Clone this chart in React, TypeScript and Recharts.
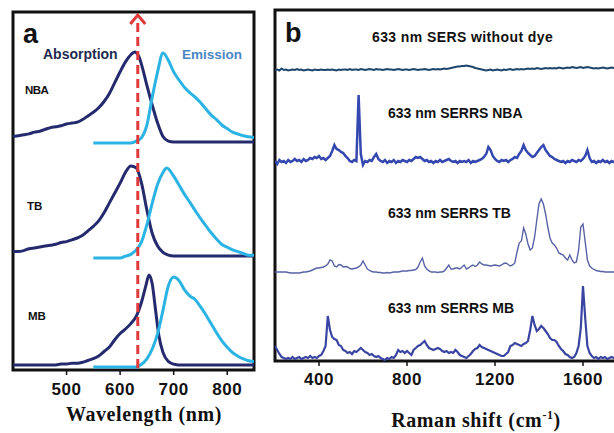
import React from 'react';
import { LineChart, Line, XAxis, YAxis, ReferenceLine, ReferenceArea } from 'recharts';

// ---------- Panel a: absorption / emission spectra (normalized intensity) ----------
const wavelengthTicks = [500, 600, 700, 800];
const laserWavelength = 633;

const nbaAbsorption: [number, number][] = [
  [400, 0.06], [410, 0.07], [420, 0.08], [430, 0.09], [440, 0.11], [450, 0.12], [460, 0.14], [470, 0.16],
  [480, 0.17], [490, 0.18], [500, 0.2], [510, 0.21], [520, 0.22], [530, 0.25], [540, 0.29], [550, 0.33],
  [560, 0.38], [570, 0.45], [580, 0.54], [590, 0.66], [600, 0.78], [610, 0.89], [620, 0.97], [627, 1],
  [635, 0.95], [640, 0.86], [650, 0.63], [660, 0.41], [670, 0.21], [680, 0.06], [690, 0.01], [700, 0], [850, 0],
];
const nbaEmission: [number, number][] = [
  [550, 0], [620, 0], [630, 0.02], [640, 0.06], [650, 0.2], [660, 0.51], [670, 0.79], [680, 1], [690, 0.92],
  [700, 0.79], [710, 0.7], [720, 0.62], [730, 0.56], [740, 0.51], [750, 0.45], [760, 0.38], [770, 0.31],
  [780, 0.26], [790, 0.2], [800, 0.16], [810, 0.12], [820, 0.1], [830, 0.08], [840, 0.07], [850, 0.06],
];
const tbAbsorption: [number, number][] = [
  [400, 0.05], [410, 0.05], [420, 0.06], [430, 0.08], [440, 0.09], [450, 0.1], [460, 0.11], [470, 0.12],
  [480, 0.13], [490, 0.15], [500, 0.16], [510, 0.18], [520, 0.2], [530, 0.23], [540, 0.28], [550, 0.33],
  [560, 0.39], [570, 0.48], [580, 0.59], [590, 0.7], [600, 0.81], [610, 0.93], [620, 1], [630, 0.98],
  [640, 0.81], [650, 0.51], [660, 0.25], [670, 0.11], [680, 0.04], [690, 0.01], [700, 0], [850, 0],
];
const tbEmission: [number, number][] = [
  [550, 0], [600, 0], [610, 0.02], [620, 0.04], [630, 0.09], [640, 0.18], [650, 0.37], [660, 0.61],
  [670, 0.82], [680, 0.95], [687, 1], [700, 0.91], [710, 0.81], [720, 0.71], [730, 0.62], [740, 0.53],
  [750, 0.44], [760, 0.36], [770, 0.28], [780, 0.21], [790, 0.15], [800, 0.12], [810, 0.09], [820, 0.07],
  [830, 0.05], [840, 0.03], [850, 0.03],
];
const mbAbsorption: [number, number][] = [
  [400, 0], [480, 0], [490, 0.01], [500, 0.01], [510, 0.02], [520, 0.02], [530, 0.03], [540, 0.05],
  [550, 0.07], [560, 0.1], [570, 0.15], [580, 0.2], [590, 0.28], [600, 0.35], [610, 0.4], [620, 0.46],
  [630, 0.54], [640, 0.7], [648, 0.88], [654, 1], [660, 0.9], [666, 0.62], [672, 0.34], [680, 0.14],
  [690, 0.04], [700, 0.01], [710, 0], [850, 0],
];
const mbEmission: [number, number][] = [
  [550, 0], [630, 0], [640, 0.03], [650, 0.09], [660, 0.2], [670, 0.37], [680, 0.63], [690, 0.9], [700, 1],
  [710, 0.96], [720, 0.86], [730, 0.79], [740, 0.75], [750, 0.67], [760, 0.58], [770, 0.48], [780, 0.38],
  [790, 0.29], [800, 0.22], [810, 0.16], [820, 0.12], [830, 0.09], [840, 0.07], [850, 0.06],
];

// stacking (vertical offsets in plot units) and peak amplitude
const SPEC_AMP = 90;
const absOffsets = { nba: 228, tb: 114, mb: 5 };
const emOffsets = { nba: 227, tb: 112, mb: 3 };

// ---------- Panel b: Raman spectra (relative intensity above each trace baseline) ----------
const ramanTicks = [400, 800, 1200, 1600];
const ramanShift = [
  200, 210, 220, 230, 240, 250, 260, 270, 280, 290,
  300, 310, 320, 330, 340, 350, 360, 370, 380, 390,
  400, 410, 420, 430, 440, 450, 460, 470, 480, 490,
  500, 510, 520, 530, 540, 550, 560, 570, 580, 590,
  600, 610, 620, 630, 640, 650, 660, 670, 680, 690,
  700, 710, 720, 730, 740, 750, 760, 770, 780, 790,
  800, 810, 820, 830, 840, 850, 860, 870, 880, 890,
  900, 910, 920, 930, 940, 950, 960, 970, 980, 990,
  1000, 1010, 1020, 1030, 1040, 1050, 1060, 1070, 1080, 1090,
  1100, 1110, 1120, 1130, 1140, 1150, 1160, 1170, 1180, 1190,
  1200, 1210, 1220, 1230, 1240, 1250, 1260, 1270, 1280, 1290,
  1300, 1310, 1320, 1330, 1340, 1350, 1360, 1370, 1380, 1390,
  1400, 1410, 1420, 1430, 1440, 1450, 1460, 1470, 1480, 1490,
  1500, 1510, 1520, 1530, 1540, 1550, 1560, 1570, 1580, 1590,
  1600, 1610, 1620, 1630, 1640, 1650, 1660, 1670, 1680, 1690,
  1700, 1710, 1720, 1730, 1740, 1750,
];
const sersNoDye = [
  0, 0.5, -0.5, 1.5, 0, 0.5, -0.5, 0, 0.5, 0,
  1, 0, 0.5, -0.5, 0, 0.5, 0, -0.5, 0.5, 0,
  0, 0.5, 0, 0, 0.5, 0, 0.5, 0, -0.5, 0.5,
  0, 0.5, 0.5, 0, 1, 0, 0.5, 0.5, 0, 1,
  0.5, 0, 0.5, 1, 0.5, 0, 1, 0.5, 0.5, 0,
  0.5, 1, 0.5, 0.5, 0, 0.5, 1, 0.5, 0, 0.5,
  0.5, 0, 0.5, 1, 0.5, 0, 0.5, 0.5, 1, 0.5,
  0, 0.5, 1, 0.5, 1, 0.5, 1, 1.5, 1, 1.5,
  2, 2.5, 3, 3.5, 3.5, 4, 4, 4.5, 4, 3.5,
  3, 2, 1.5, 1, 0.5, 0, -0.5, 0, 0.5, -0.5,
  0, 0.5, 0, -0.5, 0.5, 0, 0.5, 1, 0, 0.5,
  1, 0.5, 1, 0.5, 1, 1.5, 1, 1.5, 1, 2,
  1.5, 1, 1.5, 2, 1.5, 2, 1.5, 2, 1.5, 2.5,
  2, 1.5, 2, 2.5, 2, 3, 2.5, 2, 2.5, 3,
  2, 2.5, 3, 2.5, 2, 1.5, 2, 1.5, 2, 2.5,
  2, 1.5, 2, 2.5, 2, 2,
];
const serrsNBA = [
  1, -2, 2, 0, 1, -1, 2, 0, 1, 3,
  1, 2, 0, 3, 1, 2, 4, 3, 5, 4,
  6, 3, 4, 2, 4, 6, 11, 17, 13, 12,
  10, 9, 6, 4, 1, 0, 2, 1, 67, 8,
  -3, 1, 0, 2, 1, 5, 8, 3, 1, 0,
  2, -1, 1, 0, 2, -1, 1, 0, 2, 1,
  0, 2, 1, 3, 5, 4, 5, 3, 1, 2,
  0, 1, -1, 1, 0, 2, 0, 1, 2, 3,
  1, 0, 1, -1, 1, 0, 1, 0, 2, -1,
  1, 0, 1, 2, 3, 5, 8, 15, 12, 6,
  3, 1, 0, 2, 1, 2, 0, 2, 3, 5,
  4, 8, 11, 17, 12, 9, 7, 5, 6, 9,
  12, 15, 17, 12, 9, 6, 5, 3, 2, 1,
  0, 1, -1, 1, 0, 2, 1, 0, 2, 1,
  3, 6, 12, 4, 0, 1, -1, 1, 0, 2,
  0, 1, -1, 1, 0, 1,
];
const serrsTB = [
  0, 0, 0, 0, 0, 0, -0.5, -1, -1, -1,
  -1, -1, -0.5, 0, 0, 0.5, 1, 2, 3, 4,
  4, 4.5, 5, 6, 8, 12, 11, 6, 5, 7.5,
  7, 5, 5.5, 5, 3.5, 3, 3.5, 4, 5, 7,
  11, 7, 3, 1.5, 0.5, 0, 0, -0.5, -0.5, -1,
  -1, -0.5, -1, -0.5, 0, 0, 0, 0.5, 1, 1,
  1, 1.5, 1.5, 2, 2.5, 5, 10, 14, 6, 3,
  1, 0, 0, 0, -0.5, 0, 0, 1, 4, 7,
  3, 3, 4, 4, 3, 5, 7, 3, 4, 6,
  7, 5.5, 7, 10, 8, 7, 7, 6.5, 6, 6.5,
  7, 6.5, 6, 7, 8.5, 9, 7.5, 6, 7, 9,
  20, 29, 31, 44, 38, 28, 22, 24, 35, 52,
  68, 73, 68, 58, 45, 34, 29, 27, 24, 19,
  18, 17, 14, 12, 17, 12, 9, 10, 22, 45,
  48, 30, 12, 6, 4, 2.5, 1.5, 1, 0.5, 0.5,
  0, 0, 0, 0, 0, 0,
];
const serrsMB = [
  12, 8, 4, 1, 0, -1, 0, -1, 1, -1,
  0, 1, -1, 0, 1, 0, 2, 0, 1, 0,
  2, 3, 7, 12, 42, 28, 21, 19, 18, 13,
  12, 8, 7, 5, 6, 4, 7, 6, 8, 10,
  8, 6, 5, 3, 4, 2, 1, 2, 0, -1,
  -2, 0, -1, 1, 0, 3, 8, 6, 7, 5,
  7, 5, 3, 8, 10, 12, 13, 15, 17, 13,
  10, 9, 8, 9, 10, 9, 7, 6, 7, 5,
  6, 5, 8, 6, 3, 2, 1, 0, 2, 4,
  7, 9, 10, 13, 11, 10, 9, 8, 7, 6,
  5, 4, 3, 2, 2, 4, 6, 12, 13, 15,
  14, 13, 12, 14, 15, 17, 28, 42, 33, 27,
  29, 32, 30, 27, 24, 20, 18, 18, 16, 12,
  9, 7, 4, 3, 1, 0, 1, 5, 12, 30,
  72, 40, 12, 5, 2, 0, 1, -1, 1, 0,
  1, -1, 0, 1, 0, 1,
];
const ramanOffsets = { noDye: 291, nba: 199, tb: 89, mb: 3 };

// ---------- tables built from the arrays ----------
const toSpec = (pts: [number, number][], off: number) =>
  pts.map(([nm, v]) => ({ nm, y: off + v * SPEC_AMP }));

const ramanTable = ramanShift.map((shift, i) => ({
  shift,
  noDye: ramanOffsets.noDye + sersNoDye[i],
  nba: ramanOffsets.nba + serrsNBA[i],
  tb: ramanOffsets.tb + serrsTB[i],
  mb: ramanOffsets.mb + serrsMB[i],
}));

const ABS_COLOR = '#252a6e';
const EM_COLOR = '#2bb3e3';
const SANS = 'Liberation Sans, Arial, sans-serif';
const SERIF = 'Liberation Serif, Times New Roman, serif';

const tickStyle = { fontSize: 17, fontWeight: 700, fill: '#111', fontFamily: SANS, letterSpacing: 0.6 };

const LaserLine = (p: any) => {
  const x = p.x1;
  const top = Math.min(p.y1, p.y2);
  const bottom = Math.max(p.y1, p.y2);
  return (
    <g>
      <line x1={x} y1={top + 11} x2={x} y2={bottom} stroke="#e03a3a" strokeWidth={3} strokeDasharray="9 5" />
      <path d={`M${x - 7.5},${top + 12} L${x},${top + 3} L${x + 7.5},${top + 12}`} fill="none" stroke="#e03a3a" strokeWidth={3} />
    </g>
  );
};

export default function App() {
  return (
    <div style={{ position: 'fixed', left: 0, top: 0, width: 614, height: 433, overflow: 'hidden', background: '#fff' }}>
      <div style={{ position: 'absolute', left: 0, top: 0 }}>
        <LineChart width={270} height={433} margin={{ top: 12, right: 16, left: 13, bottom: 33 }}>
          <XAxis
            dataKey="nm"
            type="number"
            domain={[400, 850]}
            ticks={wavelengthTicks}
            allowDataOverflow
            axisLine={false}
            tickSize={5}
            tickMargin={8}
            height={30}
            tickLine={{ stroke: '#111', strokeWidth: 1.5 }}
            tick={tickStyle}
          />
          <YAxis hide type="number" domain={[0, 358]} allowDataOverflow />
          <Line data={toSpec(nbaAbsorption, absOffsets.nba)} dataKey="y" type="monotone" stroke={ABS_COLOR} strokeWidth={3} dot={false} isAnimationActive={false} />
          <Line data={toSpec(nbaEmission, emOffsets.nba)} dataKey="y" type="monotone" stroke={EM_COLOR} strokeWidth={3} dot={false} isAnimationActive={false} />
          <Line data={toSpec(tbAbsorption, absOffsets.tb)} dataKey="y" type="monotone" stroke={ABS_COLOR} strokeWidth={3} dot={false} isAnimationActive={false} />
          <Line data={toSpec(tbEmission, emOffsets.tb)} dataKey="y" type="monotone" stroke={EM_COLOR} strokeWidth={3} dot={false} isAnimationActive={false} />
          <Line data={toSpec(mbAbsorption, absOffsets.mb)} dataKey="y" type="monotone" stroke={ABS_COLOR} strokeWidth={3} dot={false} isAnimationActive={false} />
          <Line data={toSpec(mbEmission, emOffsets.mb)} dataKey="y" type="monotone" stroke={EM_COLOR} strokeWidth={3} dot={false} isAnimationActive={false} />
          <ReferenceLine x={laserWavelength} shape={LaserLine} ifOverflow="visible" />
          <ReferenceArea x1={400} x2={850} y1={0} y2={358} fill="none" fillOpacity={0} stroke="#111" strokeWidth={3} ifOverflow="visible" />
        </LineChart>
      </div>
      <div style={{ position: 'absolute', left: 262, top: 0 }}>
        <LineChart width={356} height={433} data={ramanTable} margin={{ top: 10, right: 2, left: 13, bottom: 42 }}>
          <XAxis
            dataKey="shift"
            type="number"
            domain={[200, 1750]}
            ticks={ramanTicks}
            allowDataOverflow
            axisLine={false}
            tickSize={5}
            tickMargin={7}
            height={30}
            tickLine={{ stroke: '#111', strokeWidth: 1.5 }}
            tick={tickStyle}
          />
          <YAxis hide type="number" domain={[0, 351]} allowDataOverflow />
          <Line dataKey="noDye" type="linear" stroke="#1f466c" strokeWidth={2} dot={false} isAnimationActive={false} />
          <Line dataKey="nba" type="linear" stroke="#3448b0" strokeWidth={2.5} dot={false} isAnimationActive={false} />
          <Line dataKey="tb" type="linear" stroke="#5862a6" strokeWidth={1.4} dot={false} isAnimationActive={false} />
          <Line dataKey="mb" type="linear" stroke="#3a45a2" strokeWidth={2.2} dot={false} isAnimationActive={false} />
          <ReferenceArea x1={200} x2={1750} y1={0} y2={351} fill="none" fillOpacity={0} stroke="#111" strokeWidth={3} ifOverflow="visible" />
        </LineChart>
      </div>
      <svg width={614} height={433} style={{ position: 'absolute', left: 0, top: 0, pointerEvents: 'none' }}>
        <text x={23} y={43} fontFamily={SANS} fontWeight={700} fontSize={27} fill="#111">a</text>
        <text x={43} y={59} fontFamily={SANS} fontWeight={700} fontSize={14} fill="#1e2b4f">Absorption</text>
        <text x={182} y={59} fontFamily={SANS} fontWeight={700} fontSize={13.5} fill="#4a86c4">Emission</text>
        <text x={25} y={94} fontFamily={SANS} fontWeight={700} fontSize={11.5} fill="#111" letterSpacing={-0.5}>NBA</text>
        <text x={27} y={210} fontFamily={SANS} fontWeight={700} fontSize={11.5} fill="#111">TB</text>
        <text x={28} y={320} fontFamily={SANS} fontWeight={700} fontSize={11.5} fill="#111">MB</text>
        <text x={144} y={421} textAnchor="middle" fontFamily={SERIF} fontWeight={700} fontSize={20} letterSpacing={0.6} fill="#111">Wavelength (nm)</text>

        <text x={285} y={42} fontFamily={SANS} fontWeight={700} fontSize={27} fill="#111">b</text>
        <text x={372} y={42} fontFamily={SANS} fontWeight={700} fontSize={14} letterSpacing={0.4} fill="#111">633 nm SERS without dye</text>
        <text x={388} y={118} fontFamily={SANS} fontWeight={700} fontSize={14} fill="#111">633 nm SERRS NBA</text>
        <text x={388} y={218} fontFamily={SANS} fontWeight={700} fontSize={14} fill="#111">633 nm SERRS TB</text>
        <text x={388} y={313} fontFamily={SANS} fontWeight={700} fontSize={14} fill="#111">633 nm SERRS MB</text>
        <text x={476} y={427} textAnchor="middle" fontFamily={SERIF} fontWeight={700} fontSize={20} letterSpacing={0.6} fill="#111">
          Raman shift (cm<tspan dy={-8} fontSize={12}>-1</tspan><tspan dy={8}>)</tspan>
        </text>
      </svg>
    </div>
  );
}
